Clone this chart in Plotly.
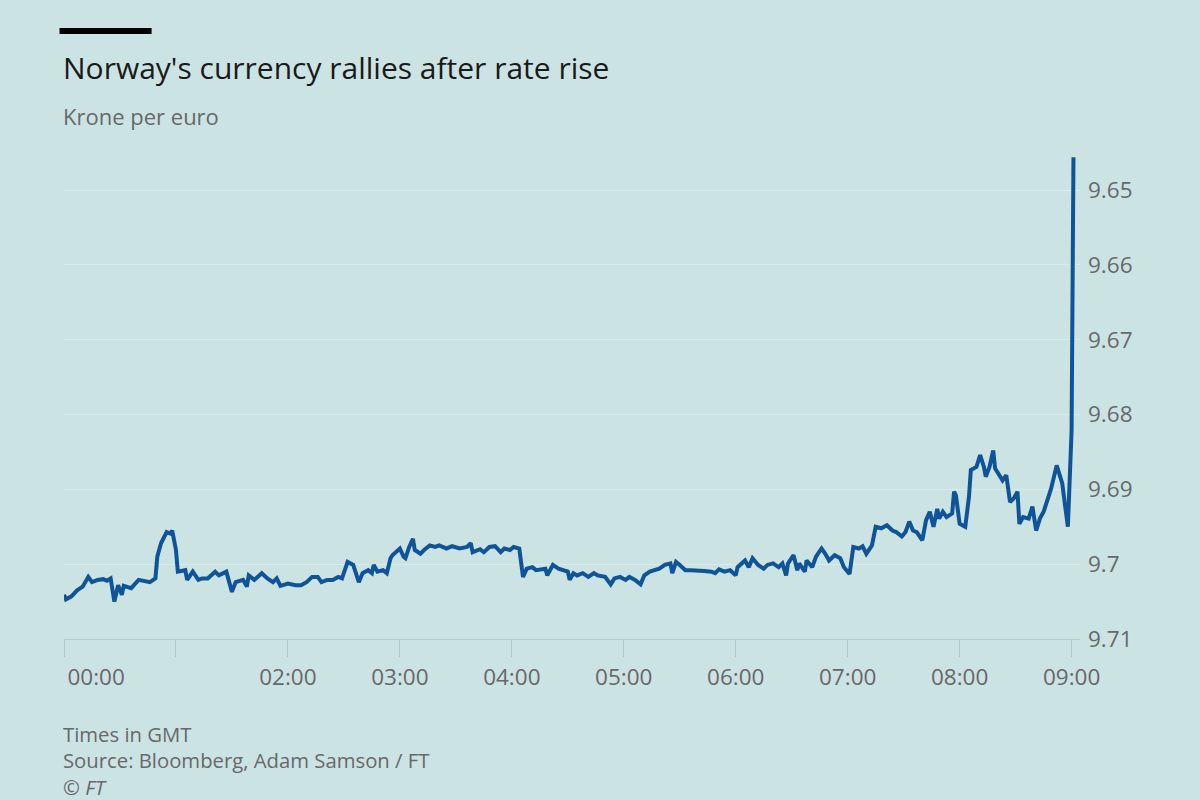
import pandas as pd
import plotly.graph_objects as go

# EUR/NOK intraday (GMT)
times = [
    "00:00", "00:01", "00:04", "00:07", "00:10", "00:13", "00:15", "00:18", "00:21", "00:23", "00:25", "00:27", "00:29",
    "00:31", "00:32", "00:36", "00:40", "00:43", "00:46", "00:49", "00:50", "00:52", "00:55", "00:57", "00:58",
    "01:00", "01:01", "01:05", "01:06", "01:09", "01:12", "01:14", "01:17", "01:21", "01:23", "01:27", "01:30", "01:32",
    "01:36", "01:38", "01:39", "01:42", "01:46", "01:49", "01:52", "01:54", "01:56",
    "02:00", "02:04", "02:07", "02:10", "02:13", "02:16", "02:18", "02:21", "02:24", "02:27", "02:29", "02:32", "02:35",
    "02:38", "02:40", "02:43", "02:45", "02:46", "02:48", "02:51", "02:53", "02:55", "02:56", "02:58",
    "03:00", "03:02", "03:03", "03:05", "03:07", "03:08", "03:11", "03:13", "03:16", "03:19", "03:21", "03:25", "03:28",
    "03:32", "03:36", "03:38", "03:39", "03:43", "03:45", "03:48", "03:51", "03:54", "03:56", "03:59",
    "04:01", "04:04", "04:06", "04:08", "04:11", "04:13", "04:16", "04:18", "04:19", "04:22", "04:25", "04:27", "04:30",
    "04:31", "04:33", "04:35", "04:38", "04:41", "04:44", "04:46", "04:50", "04:53", "04:55", "04:58",
    "05:01", "05:03", "05:06", "05:09", "05:11", "05:14", "05:17", "05:19", "05:22", "05:25", "05:26", "05:28", "05:30",
    "05:33", "05:36", "05:40", "05:43", "05:47", "05:49", "05:51", "05:54", "05:57",
    "06:00", "06:01", "06:05", "06:07", "06:09", "06:12", "06:15", "06:17", "06:20", "06:23", "06:25", "06:27", "06:28",
    "06:31", "06:33", "06:34", "06:37", "06:38", "06:41", "06:43", "06:46", "06:48", "06:50", "06:53", "06:56", "06:58",
    "07:01", "07:03", "07:06", "07:08", "07:10", "07:13", "07:15", "07:18", "07:21", "07:24", "07:26", "07:29", "07:31",
    "07:33", "07:35", "07:37", "07:40", "07:42", "07:44", "07:46", "07:48", "07:49", "07:51", "07:53", "07:56", "07:57",
    "07:58",
    "08:00", "08:02", "08:03", "08:05", "08:06", "08:09", "08:11", "08:13", "08:14", "08:16", "08:18", "08:19", "08:21",
    "08:23", "08:25", "08:27", "08:29", "08:31", "08:32", "08:34", "08:37", "08:39", "08:41", "08:43", "08:45", "08:48",
    "08:49", "08:52", "08:55", "08:56", "08:58",
    "09:00", "09:01",
]

krone_per_euro = [
    9.7041, 9.7047, 9.7043, 9.7035, 9.7030, 9.7017, 9.7024, 9.7021, 9.7020, 9.7022, 9.7019, 9.7050, 9.7028,
    9.7041, 9.7029, 9.7032, 9.7021, 9.7022, 9.7024, 9.7019, 9.6990, 9.6972, 9.6957, 9.6959, 9.6955,
    9.6981, 9.7010, 9.7008, 9.7021, 9.7010, 9.7021, 9.7019, 9.7019, 9.7010, 9.7015, 9.7010, 9.7037, 9.7024,
    9.7021, 9.7030, 9.7015, 9.7021, 9.7012, 9.7019, 9.7024, 9.7019, 9.7029,
    9.7026, 9.7028, 9.7028, 9.7024, 9.7017, 9.7017, 9.7024, 9.7021, 9.7021, 9.7017, 9.7019, 9.6997, 9.7001,
    9.7024, 9.7012, 9.7008, 9.7012, 9.7001, 9.7010, 9.7008, 9.7012, 9.6992, 9.6988, 9.6984,
    9.6979, 9.6990, 9.6992, 9.6977, 9.6966, 9.6981, 9.6986, 9.6981, 9.6975, 9.6977, 9.6975, 9.6979, 9.6976,
    9.6979, 9.6977, 9.6972, 9.6984, 9.6980, 9.6984, 9.6977, 9.6976, 9.6984, 9.6979, 9.6981,
    9.6977, 9.6979, 9.7017, 9.7006, 9.7004, 9.7008, 9.7006, 9.7006, 9.7015, 9.7001, 9.7006, 9.7008, 9.7010,
    9.7021, 9.7012, 9.7015, 9.7012, 9.7017, 9.7012, 9.7015, 9.7017, 9.7027, 9.7019, 9.7017,
    9.7021, 9.7017, 9.7021, 9.7027, 9.7015, 9.7010, 9.7008, 9.7006, 9.7001, 9.6999, 9.7012, 9.6997, 9.7001,
    9.7008, 9.7008, 9.7008, 9.7009, 9.7010, 9.7012, 9.7007, 9.7010, 9.7008,
    9.7015, 9.7004, 9.6995, 9.7004, 9.6992, 9.7001, 9.7006, 9.7001, 9.6999, 9.7004, 9.6999, 9.7015, 9.6999,
    9.6988, 9.7008, 9.6999, 9.7010, 9.6995, 9.7004, 9.6990, 9.6979, 9.6986, 9.6995, 9.6988, 9.6992, 9.7004,
    9.7013, 9.6977, 9.6979, 9.6976, 9.6986, 9.6975, 9.6950, 9.6952, 9.6948, 9.6955, 9.6957, 9.6963, 9.6957,
    9.6943, 9.6955, 9.6957, 9.6968, 9.6941, 9.6930, 9.6950, 9.6926, 9.6939, 9.6930, 9.6937, 9.6932, 9.6903,
    9.6908,
    9.6946, 9.6948, 9.6950, 9.6910, 9.6874, 9.6870, 9.6854, 9.6870, 9.6883, 9.6870, 9.6848, 9.6872, 9.6881,
    9.6888, 9.6881, 9.6917, 9.6912, 9.6903, 9.6946, 9.6937, 9.6939, 9.6923, 9.6955, 9.6939, 9.6930, 9.6908,
    9.6899, 9.6868, 9.6892, 9.6912, 9.6950,
    9.6821, 9.6456,
]

hour_ticks = ["00:00", "01:00", "02:00", "03:00", "04:00", "05:00", "06:00", "07:00", "08:00", "09:00"]
# 01:00 has a tick but no label in the original; 00:00 label sits to the right of its tick
hour_labels = ["\u2007" * 5 + "00:00", "", "02:00", "03:00", "04:00", "05:00", "06:00", "07:00", "08:00", "09:00"]
y_ticks = [9.65, 9.66, 9.67, 9.68, 9.69, 9.70, 9.71]
y_labels = ["9.65", "9.66", "9.67", "9.68", "9.69", "9.7", "9.71"]

assert len(times) == len(krone_per_euro)

DAY = "2018-09-20 "
x = pd.to_datetime([DAY + t for t in times])

BG = "#cce3e3"
GREY = "#66696a"
FONT = "Open Sans"

fig = go.Figure()
fig.add_trace(
    go.Scatter(
        x=x,
        y=krone_per_euro,
        mode="lines",
        line=dict(color="#0f5499", width=4),
        hoverinfo="skip",
    )
)

fig.update_layout(
    width=1200,
    height=800,
    paper_bgcolor=BG,
    plot_bgcolor=BG,
    showlegend=False,
    margin=dict(l=64, r=120, t=149, b=161),
    font=dict(family=FONT, color=GREY, size=20),
    xaxis=dict(
        type="date",
        automargin=False,
        range=[DAY + "00:00", DAY + "09:04:30"],
        tickvals=pd.to_datetime([DAY + t for t in hour_ticks]),
        ticktext=hour_labels,
        ticks="outside",
        ticklen=17,
        tickcolor="#b9c9c9",
        showline=True,
        linecolor="#b9c9c9",
        linewidth=1,
        showgrid=False,
        zeroline=False,
        ticklabelstandoff=1,
        tickfont=dict(size=22.5, color=GREY),
    ),
    yaxis=dict(
        side="right",
        automargin=False,
        range=[9.71, 9.6445],
        tickvals=y_ticks,
        ticktext=y_labels,
        showgrid=True,
        gridcolor="#d9ebeb",
        gridwidth=1,
        zeroline=False,
        showline=False,
        ticks="",
        ticklabelstandoff=7,
        tickfont=dict(size=22.5, color=GREY),
    ),
)

# FT-style black rule above the title
fig.add_shape(
    type="rect", xref="paper", yref="paper",
    x0=-0.0044, x1=0.0862, y0=1.2347, y1=1.2469,
    fillcolor="#000000", line=dict(width=0),
)

fig.add_annotation(
    text="Norway's currency rallies after rate rise",
    xref="paper", yref="paper", x=-0.0034, y=1.167,
    xanchor="left", yanchor="middle", showarrow=False,
    font=dict(family=FONT, size=30, color="#1a1a1a"),
)
fig.add_annotation(
    text="Krone per euro",
    xref="paper", yref="paper", x=-0.0034, y=1.067,
    xanchor="left", yanchor="middle", showarrow=False,
    font=dict(family=FONT, size=22, color=GREY),
)

# footer as one block so the three lines share the same spacing
fig.add_annotation(
    text="Times in GMT<br>Source: Bloomberg, Adam Samson / FT<br><i>© FT</i>",
    xref="paper", yref="paper", x=-0.0034, y=-0.247,
    xanchor="left", yanchor="middle", align="left", showarrow=False,
    font=dict(family=FONT, size=20.3, color=GREY),
)

# drop the browser's default body margin and any scrollbar so the chart sits flush at 0,0
fig.write_html(
    "out.html",
    config={"displayModeBar": False},
    post_script="document.body.style.margin='0';document.documentElement.style.overflow='hidden';",
)
